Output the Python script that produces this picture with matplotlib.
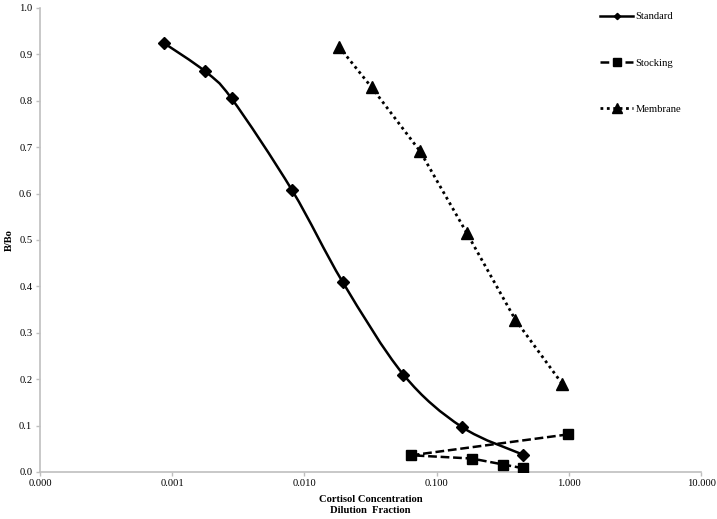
import numpy as np
import matplotlib
matplotlib.use("Agg")
import matplotlib.pyplot as plt
from matplotlib.path import Path
from matplotlib.patches import PathPatch
from matplotlib.ticker import FixedLocator, FuncFormatter

plt.rcParams['font.family'] = ['Liberation Serif', 'DejaVu Serif']

# data
std_x = [0.00087, 0.00176, 0.00281, 0.00807, 0.0195, 0.056, 0.155, 0.453]
std_y = [0.924, 0.864, 0.805, 0.607, 0.409, 0.210, 0.097, 0.037]

stock_x = [0.986, 0.0643, 0.1845, 0.32, 0.453]
stock_y = [0.081, 0.036, 0.029, 0.016, 0.008]

memb_x = [0.0182, 0.0322, 0.075, 0.169, 0.394, 0.89]
memb_y = [0.917, 0.829, 0.691, 0.515, 0.328, 0.190]

x_ticks = [0.0001, 0.001, 0.01, 0.1, 1, 10]
y_ticks = np.arange(0, 1.01, 0.1)

text_color = '#000000'
axis_color = '#bfbfbf'
fs = 7.6


def smooth_path(xs, ys):
    # Excel-style smoothed line: cubic bezier (catmull-rom) in log-x space
    lx = np.log10(xs)
    pts = np.column_stack([lx, ys])
    n = len(pts)
    verts = [pts[0]]
    codes = [Path.MOVETO]
    for i in range(n - 1):
        p0 = pts[max(i - 1, 0)]
        p1 = pts[i]
        p2 = pts[i + 1]
        p3 = pts[min(i + 2, n - 1)]
        c1 = p1 + (p2 - p0) / 6.0
        c2 = p2 - (p3 - p1) / 6.0
        verts += [c1, c2, p2]
        codes += [Path.CURVE4] * 3
    verts = np.array(verts)
    verts[:, 0] = 10 ** verts[:, 0]
    return Path(verts, codes)


fig = plt.figure(figsize=(7.17, 5.19), dpi=100)
ax = fig.add_axes([0.0558, 0.0906, 0.922, 0.894])
ax.set_xscale('log')

ax.add_patch(PathPatch(smooth_path(std_x, std_y), facecolor='none',
                       edgecolor='black', linewidth=1.8, zorder=2))
ax.plot(std_x, std_y, linestyle='none', marker='D', markersize=6,
        color='black', zorder=3)
std_handle, = ax.plot([], [], color='black', linewidth=1.8, marker='D',
                      markersize=4, label='Standard')

ax.plot(stock_x, stock_y, color='black', linestyle=(0, (3.5, 1.5)),
        linewidth=1.8, marker='s', markersize=7, label='Stocking', zorder=3)

ax.plot(memb_x, memb_y, color='black', linestyle=(0, (1, 1.3)),
        linewidth=2, marker='^', markersize=9, label='Membrane', zorder=3)

ax.set_xlim(0.0001, 10)
ax.set_ylim(0, 1.0)
ax.xaxis.set_major_locator(FixedLocator(x_ticks))
ax.xaxis.set_minor_locator(FixedLocator([]))
ax.xaxis.set_major_formatter(FuncFormatter(lambda v, p: f"{v:.3f}"))
ax.set_yticks(y_ticks)
ax.yaxis.set_major_formatter(FuncFormatter(lambda v, p: f"{v:.1f}"))

for s in ['top', 'right']:
    ax.spines[s].set_visible(False)
for s in ['left', 'bottom']:
    ax.spines[s].set_color(axis_color)
    ax.spines[s].set_linewidth(1.2)
ax.tick_params(axis='both', colors=axis_color, labelcolor=text_color,
               labelsize=fs, length=3, width=1)
ax.tick_params(axis='y', pad=2.5)
ax.tick_params(axis='x', pad=2)

ax.set_ylabel("B/Bo", fontsize=fs, fontweight='bold')
ax.yaxis.set_label_coords(-0.040, 0.5)
ax.set_xlabel("Cortisol Concentration\nDilution  Fraction", fontsize=fs,
              fontweight='bold', labelpad=5, linespacing=1.35)

leg = ax.legend(loc='upper left', bbox_to_anchor=(0.824, 0.995),
                bbox_transform=fig.transFigure, frameon=False, fontsize=fs,
                handlelength=3.1, labelspacing=3.5, handletextpad=0.25,
                markerscale=0.8)

fig.savefig("out.png", dpi=100, facecolor='white')
